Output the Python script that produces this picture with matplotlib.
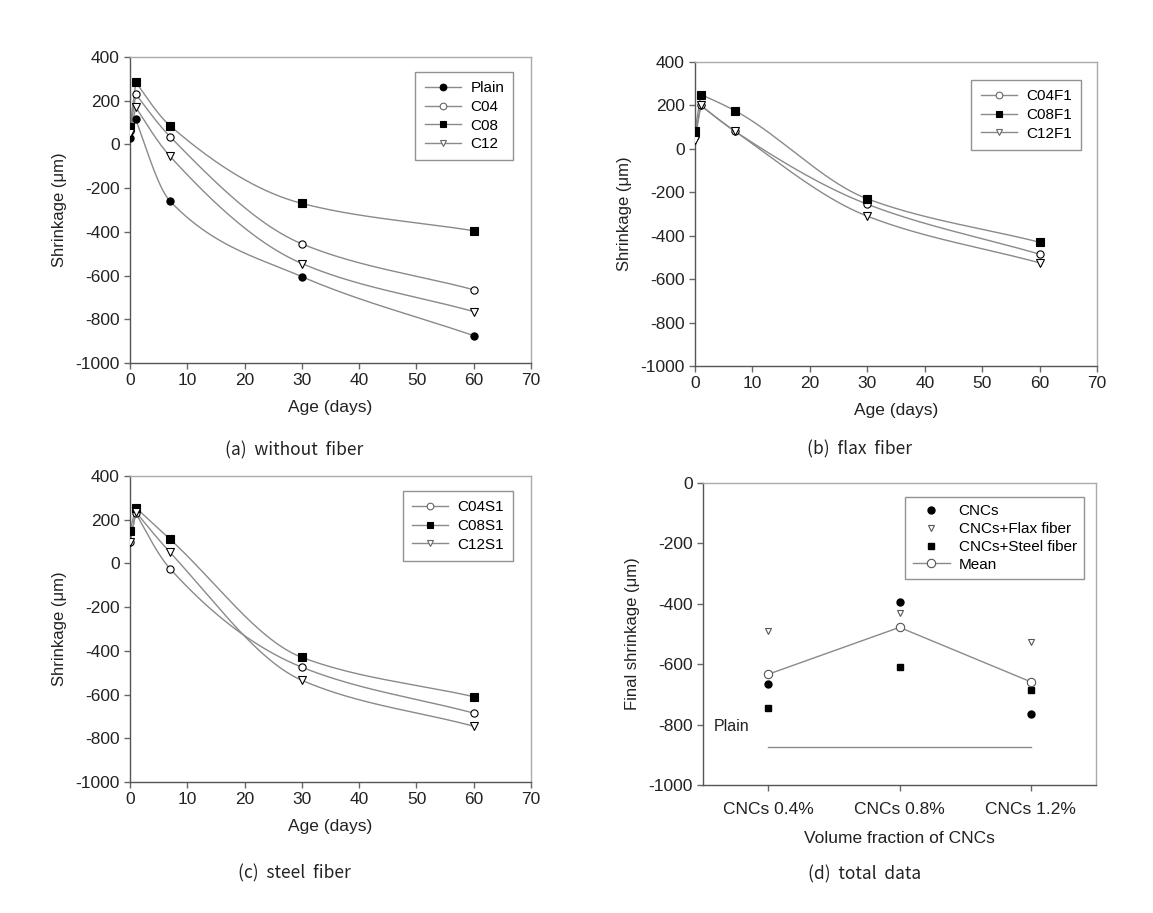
import numpy as np
import matplotlib
matplotlib.use("Agg")
import matplotlib.pyplot as plt

plt.rcParams['font.family'] = ['Liberation Sans', 'DejaVu Sans']
plt.rcParams['axes.unicode_minus'] = False

# ---------------- data ----------------
days = [0, 1, 7, 30, 60]

# (a) without fiber
plain = [30, 115, -260, -605, -875]
c04 = [60, 230, 35, -455, -665]
c08 = [80, 285, 85, -270, -395]
c12 = [50, 170, -55, -545, -765]

# (b) flax fiber
c04f1 = [60, 200, 80, -255, -485]
c08f1 = [80, 250, 175, -230, -430]
c12f1 = [40, 200, 80, -310, -525]

# (c) steel fiber
c04s1 = [100, 230, -25, -475, -685]
c08s1 = [150, 255, 110, -430, -610]
c12s1 = [100, 235, 50, -535, -745]

# (d) total data
cnc_labels = ['CNCs 0.4%', 'CNCs 0.8%', 'CNCs 1.2%']
cncs = [-665, -395, -765]
cncs_flax = [-490, -430, -525]
cncs_steel = [-745, -610, -685]
mean_vals = [-633, -478, -658]
plain_final = -875

captions = ['(a)  without  fiber', '(b)  flax  fiber', '(c)  steel  fiber', '(d)  total  data']

# ---------------- helpers ----------------
LINE = '#8a8a8a'


def end_slope(h0, h1, d0, d1):
    m = ((2 * h0 + h1) * d0 - h0 * d1) / (h0 + h1)
    if np.sign(m) != np.sign(d0):
        m = 0.0
    elif np.sign(d0) != np.sign(d1) and abs(m) > abs(3 * d0):
        m = 3 * d0
    return m


def pchip(x, y, xs):
    x = np.asarray(x, float)
    y = np.asarray(y, float)
    h = np.diff(x)
    d = np.diff(y) / h
    n = len(x)
    m = np.zeros(n)
    for k in range(1, n - 1):
        if d[k - 1] * d[k] <= 0:
            m[k] = 0
        else:
            w1 = 2 * h[k] + h[k - 1]
            w2 = h[k] + 2 * h[k - 1]
            m[k] = (w1 + w2) / (w1 / d[k - 1] + w2 / d[k])
    if n > 2:
        m[0] = end_slope(h[0], h[1], d[0], d[1])
        m[-1] = d[-1]
    else:
        m[:] = d[0]
    out = np.empty_like(xs)
    for i, xv in enumerate(xs):
        k = min(max(np.searchsorted(x, xv) - 1, 0), n - 2)
        t = (xv - x[k]) / h[k]
        h00 = 2 * t**3 - 3 * t**2 + 1
        h10 = t**3 - 2 * t**2 + t
        h01 = -2 * t**3 + 3 * t**2
        h11 = t**3 - t**2
        out[i] = h00 * y[k] + h10 * h[k] * m[k] + h01 * y[k + 1] + h11 * h[k] * m[k + 1]
    return out


def style_axes(ax):
    for s in ['left', 'bottom']:
        ax.spines[s].set_color('#555555')
        ax.spines[s].set_linewidth(1.0)
    for s in ['top', 'right']:
        ax.spines[s].set_color('#aaaaaa')
        ax.spines[s].set_linewidth(1.0)
    ax.tick_params(direction='out', length=4, width=1, color='#666666',
                   labelsize=12.5, labelcolor='#222222')


def series(ax, y, marker, face, label):
    # straight rise from casting to day 1, smooth curve afterwards
    ax.plot(days[:2], y[:2], color=LINE, lw=1.0, zorder=2)
    xs = np.linspace(days[1], days[-1], 400)
    ax.plot(xs, pchip(days[1:], y[1:], xs), color=LINE, lw=1.0, zorder=2)
    ax.plot(days, y, linestyle='none', marker=marker, ms=5.2,
            mfc=face, mec='black', mew=0.8, zorder=3)
    # legend handle
    ax.plot([], [], color=LINE, lw=1.0, marker=marker, ms=4.8,
            mfc=face, mec='black' if face == 'black' else '#666666', mew=0.8, label=label)


def time_panel(ax, data, caption, leg_anchor, cap_y):
    for y, marker, face, label in data:
        series(ax, y, marker, face, label)
    ax.set_xlim(0, 70)
    ax.set_ylim(-1000, 400)
    ax.set_xticks(range(0, 71, 10))
    ax.set_yticks(range(-1000, 401, 200))
    ax.set_xlabel('Age (days)', fontsize=12.5, color='#222222', labelpad=8)
    ax.set_ylabel('Shrinkage (\u03bcm)', fontsize=12, color='#222222', labelpad=6)
    style_axes(ax)
    leg = ax.legend(loc='upper right', bbox_to_anchor=leg_anchor, fontsize=11,
                    frameon=True, fancybox=False, edgecolor='#777777',
                    handlelength=2.4, handletextpad=0.6, borderpad=0.6,
                    labelspacing=0.3)
    leg.get_frame().set_linewidth(1.0)
    ax.text(0.41, cap_y, caption, transform=ax.transAxes, ha='center', va='center',
            fontsize=12.5, color='#222222', family=['Noto Sans CJK KR', 'DejaVu Sans'])


fig = plt.figure(figsize=(11.53, 9.13), dpi=100)
ax_a = fig.add_axes([0.1128, 0.6024, 0.3478, 0.3352])
ax_b = fig.add_axes([0.6028, 0.5991, 0.3487, 0.3330])
ax_c = fig.add_axes([0.1128, 0.1435, 0.3478, 0.3352])
ax_d = fig.add_axes([0.6097, 0.1402, 0.3409, 0.3308])

time_panel(ax_a, [(plain, 'o', 'black', 'Plain'), (c04, 'o', 'white', 'C04'),
                  (c08, 's', 'black', 'C08'), (c12, 'v', 'white', 'C12')],
           captions[0], (0.975, 0.975), -0.285)
time_panel(ax_b, [(c04f1, 'o', 'white', 'C04F1'), (c08f1, 's', 'black', 'C08F1'),
                  (c12f1, 'v', 'white', 'C12F1')],
           captions[1], (0.98, 0.965), -0.275)
time_panel(ax_c, [(c04s1, 'o', 'white', 'C04S1'), (c08s1, 's', 'black', 'C08S1'),
                  (c12s1, 'v', 'white', 'C12S1')],
           captions[2], (0.975, 0.975), -0.30)

# (d)
xpos = np.arange(1, len(cnc_labels) + 1)
ax_d.plot(xpos, cncs, linestyle='none', marker='o', ms=5, color='black', label='CNCs')
ax_d.plot(xpos, cncs_flax, linestyle='none', marker='v', ms=5, mfc='white',
          mec='#555555', mew=0.8, label='CNCs+Flax fiber')
ax_d.plot(xpos, cncs_steel, linestyle='none', marker='s', ms=5, color='black',
          label='CNCs+Steel fiber')
ax_d.plot(xpos, mean_vals, color=LINE, lw=1.0, marker='o', ms=6, mfc='white',
          mec='#555555', mew=0.8, label='Mean')
ax_d.plot([xpos[0], xpos[-1]], [plain_final, plain_final], color=LINE, lw=1.0)
ax_d.text(0.58, -805, 'Plain', fontsize=11.5, color='#222222', ha='left', va='center')
ax_d.set_xlim(0.5, 3.5)
ax_d.set_ylim(-1000, 0)
ax_d.set_xticks(xpos)
ax_d.set_xticklabels(cnc_labels)
ax_d.set_yticks(range(-1000, 1, 200))
ax_d.set_xlabel('Volume fraction of CNCs', fontsize=12.5, color='#222222', labelpad=10)
ax_d.set_ylabel('Final shrinkage (\u03bcm)', fontsize=12, color='#222222', labelpad=6)
style_axes(ax_d)
ax_d.tick_params(axis='x', labelsize=12.5, pad=8)
leg = ax_d.legend(loc='upper right', bbox_to_anchor=(0.99, 0.98), fontsize=11,
                  frameon=True, fancybox=False, edgecolor='#777777',
                  handlelength=2.4, handletextpad=0.6, borderpad=0.5,
                  labelspacing=0.25)
leg.get_frame().set_linewidth(1.0)
ax_d.text(0.41, -0.295, captions[3], transform=ax_d.transAxes, ha='center', va='center',
          fontsize=12.5, color='#222222', family=['Noto Sans CJK KR', 'DejaVu Sans'])

fig.savefig('out.png', dpi=100)
